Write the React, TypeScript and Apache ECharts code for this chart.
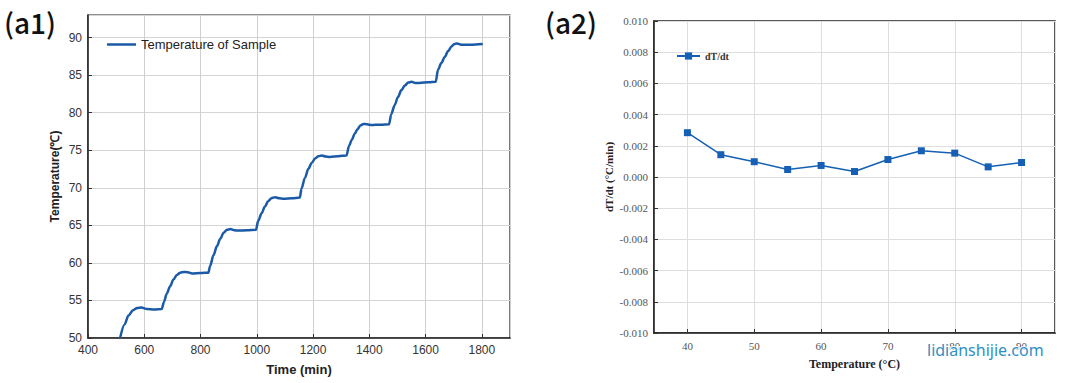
import React, { useEffect, useRef } from "react";
import * as echarts from "echarts";

// (a1) Temperature of sample vs time
const timeMin = [
  514, 530, 544, 560, 575, 590, 610, 635, 662,
  670, 680, 692, 704, 716, 728, 740, 755, 770, 800, 828,
  834, 846, 858, 870, 882, 894, 906, 920, 935, 965, 997,
  1005, 1017, 1029, 1040, 1052, 1065, 1080, 1095, 1125, 1153,
  1159, 1171, 1183, 1195, 1207, 1219, 1231, 1245, 1260, 1290, 1319,
  1328, 1338, 1348, 1358, 1368, 1380, 1392, 1407, 1440, 1470,
  1478, 1490, 1502, 1514, 1526, 1538, 1550, 1563, 1578, 1610, 1636,
  1644, 1656, 1668, 1680, 1692, 1702, 1712, 1727, 1760, 1803,
];
const sampleTemp = [
  50.0, 51.8, 53.0, 53.7, 54.0, 54.05, 53.85, 53.8, 53.85,
  54.8, 55.9, 56.9, 57.8, 58.4, 58.7, 58.8, 58.75, 58.6, 58.65, 58.7,
  59.6, 61.0, 62.2, 63.2, 64.0, 64.4, 64.5, 64.35, 64.3, 64.35, 64.4,
  65.6, 66.6, 67.5, 68.2, 68.6, 68.75, 68.6, 68.55, 68.6, 68.7,
  69.9, 71.3, 72.5, 73.3, 73.9, 74.2, 74.3, 74.15, 74.1, 74.2, 74.3,
  75.6, 76.4, 77.2, 77.8, 78.3, 78.5, 78.45, 78.35, 78.4, 78.45,
  79.8, 81.0, 82.1, 83.0, 83.6, 84.0, 84.1, 83.95, 83.95, 84.05, 84.1,
  85.7, 86.6, 87.4, 88.2, 88.8, 89.15, 89.2, 89.05, 89.05, 89.15,
];

// (a2) dT/dt vs temperature
const tempC = [40, 45, 50, 55, 60, 65, 70, 75, 80, 85, 90];
const dTdt = [0.00284, 0.00143, 0.00098, 0.00048, 0.00074, 0.00035, 0.00112, 0.00168, 0.00153, 0.00065, 0.00093];

const leftName = "Temperature of Sample";
const rightName = "dT/dt";

export default function App() {
  const ref = useRef<HTMLDivElement>(null);
  useEffect(() => {
    if (!ref.current) return;
    const chart = echarts.init(ref.current, null, { renderer: "svg" });
    const sans = "Liberation Sans";
    const serif = "Liberation Serif";
    const blue = "#1a5aa6";
    const fmt3 = (v: number) => (Math.abs(v) < 1e-9 ? "0.000" : v.toFixed(3));
    chart.setOption({
      animation: false,
      backgroundColor: "#ffffff",
      grid: [
        { left: 88, top: 15, width: 422, height: 323, show: true, borderColor: "#222", borderWidth: 1.2, backgroundColor: "transparent" },
        { left: 654, top: 21, width: 401, height: 312, show: true, borderColor: "#222", borderWidth: 1.5, backgroundColor: "transparent" },
      ],
      legend: [
        {
          data: [{ name: leftName, icon: "rect" }], left: 102, top: 33, itemWidth: 29, itemHeight: 2.5, itemGap: 4,
          textStyle: { fontFamily: sans, fontSize: 13, color: "#222" },
        },
        {
          data: [rightName], left: 671, top: 46, itemWidth: 23, itemHeight: 9, itemGap: 3,
          textStyle: { fontFamily: serif, fontSize: 10, fontWeight: "bold", color: "#333" },
        },
      ],
      xAxis: [
        {
          gridIndex: 0, type: "value", min: 400, max: 1900, interval: 200,
          name: "Time (min)", nameLocation: "middle", nameGap: 25,
          nameTextStyle: { fontFamily: sans, fontSize: 13, fontWeight: "bold", color: "#222" },
          axisLine: { show: true, onZero: false, lineStyle: { color: "#222", width: 1.5 } },
          axisTick: { show: true, inside: true, length: 4, lineStyle: { color: "#333" } },
          axisLabel: { showMaxLabel: false, fontFamily: sans, fontSize: 12, color: "#333", margin: 6, formatter: (v: number) => String(v) },
          splitLine: { show: true, lineStyle: { color: "#cfcfcf", width: 1 } },
        },
        {
          gridIndex: 1, type: "value", min: 35, max: 95, splitNumber: 6,
          name: "Temperature (°C)", nameLocation: "middle", nameGap: 25,
          nameTextStyle: { fontFamily: serif, fontSize: 12, fontWeight: "bold", color: "#222" },
          axisLine: { show: true, onZero: false, lineStyle: { color: "#222", width: 1.5 } },
          axisTick: { show: true, inside: true, length: 4, lineStyle: { color: "#333" } },
          axisLabel: { showMinLabel: false, showMaxLabel: false, fontFamily: serif, fontSize: 11, color: "#555", margin: 7, formatter: (v: number) => String(v) },
          splitLine: { show: true, lineStyle: { color: "#dedede", width: 1 } },
        },
      ],
      yAxis: [
        {
          gridIndex: 0, type: "value", min: 50, max: 93, interval: 5,
          name: "Temperature(℃)", nameLocation: "middle", nameGap: 27,
          nameTextStyle: { fontFamily: sans, fontSize: 12, fontWeight: "bold", color: "#222" },
          axisLine: { show: true, onZero: false, lineStyle: { color: "#222", width: 1.5 } },
          axisTick: { show: true, inside: true, length: 4, lineStyle: { color: "#333" } },
          axisLabel: { showMaxLabel: false, fontFamily: sans, fontSize: 12, color: "#333", margin: 6 },
          splitLine: { show: true, lineStyle: { color: "#d4d4d4", width: 1 } },
        },
        {
          gridIndex: 1, type: "value", min: -0.01, max: 0.01, interval: 0.002,
          name: "dT/dt (°C/min)", nameLocation: "middle", nameGap: 40,
          nameTextStyle: { fontFamily: serif, fontSize: 11, fontWeight: "bold", color: "#222" },
          axisLine: { show: true, onZero: false, lineStyle: { color: "#222", width: 1.5 } },
          axisTick: { show: true, inside: true, length: 4, lineStyle: { color: "#333" } },
          axisLabel: { fontFamily: serif, fontSize: 11, color: "#555", margin: 6, formatter: fmt3 },
          splitLine: { show: true, lineStyle: { color: "#dedede", width: 1 } },
        },
      ],
      series: [
        {
          name: leftName, type: "line", xAxisIndex: 0, yAxisIndex: 0,
          data: timeMin.map((t, i) => [t, sampleTemp[i]]),
          symbol: "none", smooth: 0.3, smoothMonotone: "x",
          lineStyle: { color: blue, width: 2.5 }, itemStyle: { color: blue },
        },
        {
          name: rightName, type: "line", xAxisIndex: 1, yAxisIndex: 1,
          data: tempC.map((t, i) => [t, dTdt[i]]),
          symbol: "rect", symbolSize: 7,
          lineStyle: { color: "#1560b4", width: 1.5 },
          itemStyle: { color: "#1560b4" },
        },
      ],
      graphic: [
        { type: "text", x: 4, y: 22, style: { text: "(a1)", fontFamily: "Noto Sans CJK SC", fontSize: 28, fontWeight: 500, fill: "#111", verticalAlign: "middle" } },
        { type: "text", x: 545, y: 22, style: { text: "(a2)", fontFamily: "Noto Sans CJK SC", fontSize: 28, fontWeight: 500, fill: "#111", verticalAlign: "middle" } },
        { type: "text", x: 927, y: 350, z: 100, style: { text: "lidianshijie.com", fontFamily: "Noto Sans", fontSize: 16, fill: "#2f8fc4", stroke: "#ffffff", lineWidth: 2, verticalAlign: "middle" } },
      ],
    });
    return () => chart.dispose();
  }, []);
  return <div ref={ref} style={{ position: "fixed", left: 0, top: 0, width: 1080, height: 383 }} />;
}
